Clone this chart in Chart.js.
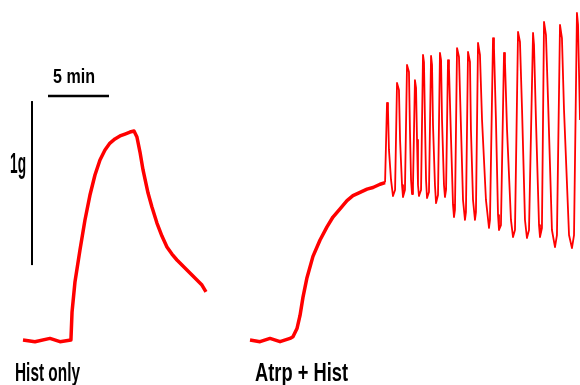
<!DOCTYPE html>
<html>
<head>
<meta charset="utf-8">
<script src="https://cdn.jsdelivr.net/npm/chart.js@4/dist/chart.umd.min.js"></script>
<style>
  html, body { margin: 0; padding: 0; background: #fff; }
  canvas { display: block; }
</style>
</head>
<body>
<canvas id="trace" width="580" height="385"></canvas>
<script>
"use strict";

// time in minutes, tension in grams (0 = resting baseline)
const histTime = [0, 0.98, 2.21, 3.03, 3.93, 4.02, 4.26, 4.67, 5.08, 5.49, 5.90, 6.31, 6.72, 7.13, 7.54,
    7.95, 8.36, 8.77, 9.10, 9.34, 9.59, 9.84, 10.25, 10.57, 10.98, 11.39, 11.80, 12.21, 12.62, 13.03,
    13.44, 13.85, 14.26, 14.67, 15.00];
const histForce = [0, -0.01, 0.01, -0.01, 0, 0.17, 0.354, 0.549, 0.732, 0.884, 1.006, 1.098, 1.159, 1.201, 1.226,
    1.244, 1.256, 1.268, 1.274, 1.238, 1.146, 1.037, 0.896, 0.811, 0.713, 0.634, 0.567, 0.524, 0.488, 0.457,
    0.427, 0.396, 0.366, 0.335, 0.293];

// second recording, time counted from its own start
const atrpStart = 18.61;
// slow rise before the rhythmic contractions
const atrpTime = [0, 0.82, 1.64, 2.46, 3.28, 3.52, 3.85, 4.10, 4.34, 4.67, 5.16, 5.74, 6.31, 6.80, 7.38,
    7.95, 8.44, 9.02, 9.59, 10.08, 10.66, 11.07];
const atrpForce = [0, -0.01, 0.01, -0.01, 0.01, 0.02, 0.07, 0.15, 0.26, 0.38, 0.51, 0.61, 0.69, 0.75, 0.80,
    0.85, 0.88, 0.90, 0.92, 0.93, 0.95, 0.96];
// rhythmic contractions
const phasicTime = [11.07,
    11.23, 11.31, 11.39, 11.56, 11.72,
    11.89, 12.05, 12.21, 12.30, 12.46, 12.54,
    12.70, 12.87, 13.03, 13.11, 13.20, 13.28,
    13.36, 13.52, 13.61, 13.69, 13.77, 13.85,
    14.02, 14.18, 14.26, 14.34, 14.43, 14.51,
    14.67, 14.84, 14.92, 15.00, 15.16, 15.25,
    15.41, 15.57, 15.66, 15.74, 15.90, 15.98,
    16.07, 16.23, 16.31, 16.48, 16.64, 16.72,
    16.80, 16.97, 17.13, 17.30, 17.46, 17.62,
    17.70, 17.87, 18.03, 18.11, 18.28, 18.44,
    18.52, 18.69, 18.85, 19.02, 19.34, 19.59,
    19.67, 19.92, 20.00, 20.16, 20.33, 20.41,
    20.57, 20.82, 20.90, 21.07, 21.39, 21.56,
    21.72, 21.97, 22.13, 22.30, 22.54, 22.70,
    22.87, 23.20, 23.28, 23.44, 23.69, 23.77,
    23.93, 24.10, 24.26, 24.43, 24.75, 25.00,
    25.16, 25.41, 25.57, 25.74, 26.15, 26.39,
    26.56, 26.80, 26.89, 27.05];
const phasicForce = [0.96,
    1.445, 1.402, 1.159, 0.976, 0.878,
    0.915, 1.567, 1.524, 1.220, 0.945, 0.872,
    0.915, 1.677, 1.634, 1.280, 0.976, 0.890,
    0.945, 1.585, 1.537, 1.220, 0.945, 0.878,
    0.915, 1.738, 1.695, 1.341, 0.976, 0.866,
    0.902, 1.732, 1.677, 1.311, 0.945, 0.835,
    0.884, 1.750, 1.707, 1.341, 0.945, 0.872,
    0.915, 1.707, 1.659, 1.220, 0.823, 0.750,
    0.793, 1.780, 1.726, 1.280, 0.854, 0.732,
    0.780, 1.756, 1.695, 1.280, 0.854, 0.732,
    0.780, 1.811, 1.738, 1.341, 0.854, 0.683,
    0.732, 1.841, 1.780, 1.341, 0.762, 0.671,
    0.701, 1.750, 1.695, 1.280, 0.732, 0.628,
    0.671, 1.878, 1.817, 1.402, 0.732, 0.622,
    0.671, 1.872, 1.799, 1.341, 0.701, 0.628,
    0.683, 1.939, 1.860, 1.463, 0.671, 0.567,
    0.640, 1.921, 1.841, 1.402, 0.640, 0.561,
    0.640, 1.994, 1.921, 1.341];

// calibration bars: 5 min and 1 g
const barMinutes = [2.05, 7.05];
const barTimeLevel = 1.488;
const barGrams = [0.457, 1.457];
const barGramTime = 0.74;

const labels = ["5 min", "1g", "Hist only", "Atrp + Hist"];

function points(xs, ys, offset) {
    return xs.map((x, i) => ({ x: x + offset, y: ys[i] }));
}

// text in the figure is squeezed sideways, so each label is fitted into its box
function fitText(ctx, text, left, top, width, cap) {
    const size = cap / 0.716;
    ctx.save();
    ctx.font = "bold " + size + "px 'Liberation Sans', Arial, sans-serif";
    const w = ctx.measureText(text).width;
    ctx.translate(left, top + cap);
    ctx.scale(width / w, 1);
    ctx.fillStyle = "#000";
    ctx.textBaseline = "alphabetic";
    ctx.fillText(text, 0, 0);
    ctx.restore();
}

const labelPlugin = {
    id: "labels",
    afterDraw(chart) {
        const ctx = chart.ctx;
        fitText(ctx, labels[0], 53, 68, 42, 15);
        fitText(ctx, labels[1], 10, 152, 16, 21);
        fitText(ctx, labels[2], 15, 362, 65, 19);
        fitText(ctx, labels[3], 255, 362, 93, 19);
    }
};

var ctx = document.getElementById("trace").getContext("2d");
var traceChart = new Chart(ctx, {
    type: "line",
    data: {
        datasets: [
            {
                data: points(histTime, histForce, 0),
                borderColor: "#ff0000",
                borderWidth: 3.5
            },
            {
                data: points(atrpTime, atrpForce, atrpStart),
                borderColor: "#ff0000",
                borderWidth: 3.5
            },
            {
                data: points(phasicTime, phasicForce, atrpStart),
                borderColor: "#ff0000",
                borderWidth: 1.8
            },
            {
                data: barMinutes.map(t => ({ x: t, y: barTimeLevel })),
                borderColor: "#000",
                borderWidth: 2.5
            },
            {
                data: barGrams.map(g => ({ x: barGramTime, y: g })),
                borderColor: "#000",
                borderWidth: 2
            }
        ]
    },
    options: {
        responsive: false,
        animation: false,
        layout: { padding: 0 },
        elements: {
            point: { radius: 0 },
            line: { tension: 0, borderCapStyle: "butt", borderJoinStyle: "round" }
        },
        scales: {
            x: { type: "linear", display: false, min: -1.885, max: 45.66 },
            y: { type: "linear", display: false, min: -0.274, max: 2.073 }
        },
        plugins: {
            legend: { display: false },
            tooltip: { enabled: false }
        }
    },
    plugins: [labelPlugin]
});
</script>
</body>
</html>
